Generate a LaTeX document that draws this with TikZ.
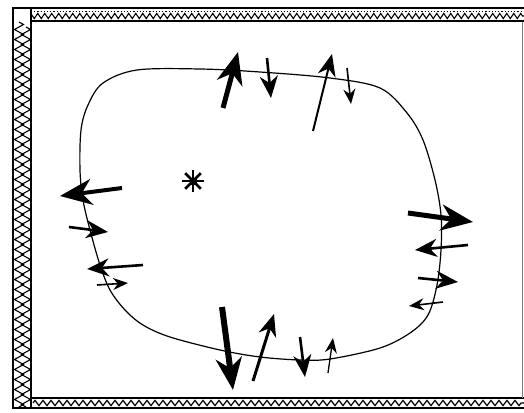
\documentclass[tikz,border=0pt]{standalone}
\usetikzlibrary{arrows.meta,decorations.pathmorphing,calc}
\begin{document}
\begin{tikzpicture}[x=1pt,y=-1pt,
  bigarr/.style={line width=5pt,-{Stealth[length=32pt,width=26pt,inset=10pt]}},
  medarr/.style={line width=2.6pt,-{Stealth[length=22pt,width=18pt,inset=7pt]}},
  smlarr/.style={line width=1.6pt,-{Stealth[length=15pt,width=12pt,inset=5pt]}},
  band/.style={draw=black,line width=1.8pt,fill=white},
  zig/.style={decorate,decoration={zigzag,segment length=7pt,amplitude=2.6pt},line width=1.1pt}]
\useasboundingbox (0,0) rectangle (524,412);
\fill[white] (0,0) rectangle (524,412);
% frame bands
\draw[band] (13,8) rectangle (527,21);
\draw[zig] (15,16) -- (524,16);
\draw[dotted,line width=1.2pt] (15,11.5) -- (524,11.5);
\draw[band] (13,8) rectangle (31,408);
\begin{scope}
\clip (14,22) rectangle (30,407);
\draw[decorate,decoration={zigzag,segment length=10pt,amplitude=4.5pt},line width=1.1pt] (19,22) -- (19,407);
\draw[decorate,decoration={zigzag,segment length=10pt,amplitude=4.5pt},line width=1.1pt] (26,27) -- (26,407);
\end{scope}
\draw[band] (31,398) rectangle (527,408);
\draw[decorate,decoration={zigzag,segment length=8pt,amplitude=2.6pt},line width=1.2pt] (33,403) -- (524,403);
\draw[gray,line width=0.8pt] (522,22) -- (522,398);
% closed curve
\draw[line width=1.2pt] plot[smooth cycle,tension=0.55] coordinates{
 (137,70) (200,69) (260,72) (330,78) (380,88) (407,113) (423,140) (435,180)
 (441,215) (441,250) (437,285) (428,315) (410,333) (380,348) (330,359)
 (300,360) (260,357) (220,350) (170,337) (143,325) (125,310) (110,290)
 (100,265) (90,230) (83,200) (80,170) (81,130) (88,105) (103,83)};
% star
\coordinate (st) at (193,181);
\foreach \a in {0,45,90,135}{
  \draw[line width=2.8pt] ($(st)+(\a:11)$) -- ($(st)+(\a+180:11)$);
}
\fill (st) ++(-3.5,-3.5) rectangle ++(7,7);
% top arrows
\draw[bigarr] (223,108) -- (238,52);
\draw[medarr] (267,58) -- (271,98);
\draw[medarr,line width=2pt] (313,131) -- (332,54);
\draw[smlarr] (347,68) -- (351,104);
% left arrows
\draw[bigarr,line width=4pt] (122,188) -- (60,196);
\draw[medarr] (69,227) -- (108,232);
\draw[medarr] (143,265) -- (87,269);
\draw[smlarr] (97,285) -- (128,283);
% right arrows
\draw[bigarr] (408,213) -- (473,222);
\draw[medarr] (468,245) -- (415,250);
\draw[medarr] (418,278) -- (458,282);
\draw[smlarr] (443,302) -- (409,306);
% bottom arrows
\draw[bigarr,line width=6pt] (222,307) -- (233,390);
\draw[medarr,line width=3pt] (253,381) -- (274,314);
\draw[medarr] (300,337) -- (305,377);
\draw[smlarr,line width=1.3pt] (328,373) -- (333,338);
\end{tikzpicture}
\end{document}
